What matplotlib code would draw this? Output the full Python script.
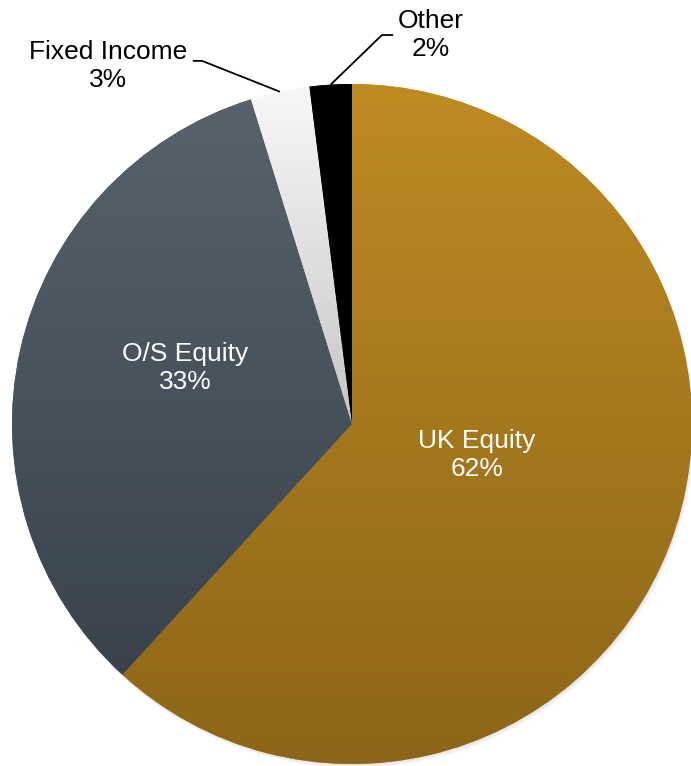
import numpy as np
import matplotlib
matplotlib.use("Agg")
import matplotlib.pyplot as plt
from matplotlib.patches import Circle
from matplotlib.colors import to_rgb

plt.rcParams['font.family'] = ['Liberation Sans', 'DejaVu Sans']

# ---- data ----
categories = ["UK Equity", "O/S Equity", "Fixed Income", "Other"]
values = [61.8, 33.4, 2.8, 2.0]
# gradient (top, bottom) colours per slice
grad_top = ["#BD8B22", "#57626C", "#F8F8F8", "#000000"]
grad_bot = ["#8C6618", "#3A434D", "#C6C6C6", "#000000"]
text_colors = ["white", "white", "black", "black"]

# label centres in pie-radius units (radius = 1)
label_pos = [(0.368, -0.091), (-0.491, 0.165), (-0.718, 1.052), (0.232, 1.143)]
# elbow points of leader lines for outside labels (index -> (elbow start, elbow end))
leaders = {2: [(-0.468, 1.068), (-0.441, 1.068)],
           3: [(0.121, 1.144), (0.088, 1.144)]}

W, H = 691, 766
R_PX = 340.0
CX, CY = 352.0, 424.0

fig = plt.figure(figsize=(W / 100, H / 100), dpi=100)
ax = fig.add_axes([0, 0, 1, 1])
ax.axis('off')

# soft shadow
for k, a in enumerate([0.05, 0.05, 0.05, 0.06]):
    off = (k + 1) * 1.0 / R_PX
    ax.add_patch(Circle((off * 0.6, -off), 1.0, color='#808080', alpha=a, lw=0, zorder=0))

wedges, _ = ax.pie(values, startangle=90, counterclock=False, radius=1.0,
                   center=(0, 0), colors=grad_top,
                   wedgeprops=dict(linewidth=0))

for i, w in enumerate(wedges):
    w.set_zorder(1)
    ext = w.get_path().get_extents()
    c0 = np.array(to_rgb(grad_top[i]))
    c1 = np.array(to_rgb(grad_bot[i]))
    t = np.linspace(0, 1, 256)[:, None]
    img = (c0[None, :] * (1 - t) + c1[None, :] * t)[:, None, :]
    im = ax.imshow(img, extent=[ext.x0, ext.x1, ext.y0, ext.y1], origin='upper',
                   aspect='auto', interpolation='bilinear', zorder=2)
    im.set_clip_path(w)

total = sum(values)
for i, (cat, v) in enumerate(zip(categories, values)):
    x, y = label_pos[i]
    ax.text(x, y, f"{cat}\n{v / total * 100:.0f}%", ha='center', va='center',
            fontsize=19, color=text_colors[i], zorder=5, linespacing=1.2)

# leader lines
for i, pts in leaders.items():
    w = wedges[i]
    mid = np.deg2rad((w.theta1 + w.theta2) / 2)
    end = (np.cos(mid), np.sin(mid))
    xs = [pts[0][0], pts[1][0], end[0]]
    ys = [pts[0][1], pts[1][1], end[1]]
    ax.plot(xs, ys, color='black', lw=1.3, zorder=4, solid_capstyle='butt')

ax.set_xlim((0 - CX) / R_PX, (W - CX) / R_PX)
ax.set_ylim((CY - H) / R_PX, CY / R_PX)
ax.set_aspect('auto')

fig.savefig("out.png", dpi=100, facecolor='white')
